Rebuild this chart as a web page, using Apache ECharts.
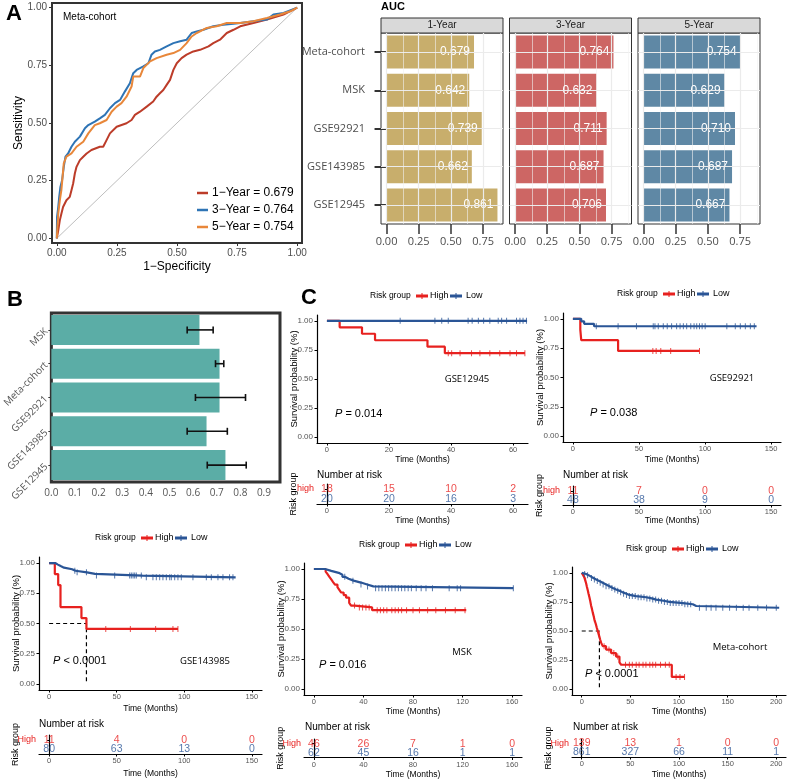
<!DOCTYPE html>
<html>
<head>
<meta charset="utf-8">
<script src="https://cdn.jsdelivr.net/npm/echarts@6/dist/echarts.min.js"></script>
<style>html,body{margin:0;padding:0;background:#fff}#chart{width:787px;height:780px}</style>
</head>
<body>
<div id="chart"></div>
<script>
// ---------- data ----------
// ROC curves of the meta-cohort, [1-specificity, sensitivity]
const roc1Year = [[0,0],[0.006,0.035],[0.0125,0.078],[0.019,0.107],[0.026,0.136],[0.04,0.165],[0.054,0.18],[0.061,0.209],[0.068,0.238],[0.075,0.281],[0.082,0.31],[0.096,0.339],[0.11,0.354],[0.124,0.368],[0.144,0.383],[0.179,0.397],[0.193,0.397],[0.207,0.426],[0.221,0.455],[0.249,0.484],[0.29,0.499],[0.311,0.513],[0.325,0.535],[0.346,0.549],[0.374,0.571],[0.401,0.593],[0.415,0.614],[0.429,0.629],[0.443,0.643],[0.457,0.665],[0.471,0.687],[0.485,0.73],[0.499,0.759],[0.519,0.781],[0.54,0.796],[0.568,0.81],[0.596,0.817],[0.631,0.832],[0.651,0.846],[0.679,0.861],[0.707,0.89],[0.735,0.904],[0.763,0.919],[0.818,0.933],[0.874,0.948],[0.943,0.97],[1,1]];
const roc3Year = [[0,0],[0.001,0.093],[0.006,0.136],[0.01,0.18],[0.015,0.223],[0.022,0.252],[0.029,0.31],[0.036,0.354],[0.047,0.368],[0.061,0.397],[0.075,0.419],[0.096,0.441],[0.117,0.477],[0.131,0.491],[0.158,0.506],[0.179,0.52],[0.2,0.535],[0.221,0.564],[0.242,0.586],[0.263,0.6],[0.283,0.636],[0.304,0.672],[0.318,0.716],[0.332,0.73],[0.36,0.745],[0.381,0.759],[0.394,0.796],[0.408,0.81],[0.429,0.817],[0.457,0.832],[0.485,0.846],[0.513,0.854],[0.54,0.861],[0.561,0.89],[0.582,0.897],[0.61,0.904],[0.651,0.919],[0.693,0.926],[0.735,0.93],[0.763,0.933],[0.818,0.941],[0.874,0.948],[0.901,0.97],[0.943,0.977],[1,1]];
const roc5Year = [[0,0],[0.006,0.107],[0.0125,0.165],[0.019,0.209],[0.029,0.325],[0.04,0.354],[0.061,0.368],[0.082,0.397],[0.11,0.419],[0.131,0.455],[0.158,0.491],[0.179,0.499],[0.207,0.513],[0.228,0.549],[0.249,0.571],[0.269,0.586],[0.29,0.614],[0.311,0.658],[0.318,0.701],[0.346,0.701],[0.36,0.738],[0.388,0.767],[0.415,0.781],[0.457,0.796],[0.485,0.803],[0.513,0.817],[0.54,0.846],[0.561,0.875],[0.582,0.89],[0.624,0.912],[0.665,0.919],[0.707,0.933],[0.763,0.933],[0.818,0.941],[0.874,0.955],[0.929,0.97],[0.971,0.984],[1,1]];
const rocDiagonal = [[0,0],[1,1]];
const rocLegend = ['1−Year = 0.679', '3−Year = 0.764', '5−Year = 0.754'];
const rocBreaks = [0, 0.25, 0.5, 0.75, 1];

// AUC facets
const aucCohorts = ['Meta-cohort', 'MSK', 'GSE92921', 'GSE143985', 'GSE12945'];
const aucFacets = ['1-Year', '3-Year', '5-Year'];
const auc1Year = [0.679, 0.642, 0.739, 0.662, 0.861];
const auc3Year = [0.764, 0.632, 0.711, 0.687, 0.706];
const auc5Year = [0.754, 0.629, 0.710, 0.687, 0.667];
const aucMajorBreaks = [0, 0.25, 0.5, 0.75];
const aucMinorBreaks = [0.125, 0.375, 0.625, 0.875];

// panel B
const cindexCohorts = ['MSK', 'Meta-cohort', 'GSE92921', 'GSE143985', 'GSE12945'];
const cindexValues = [0.627, 0.712, 0.712, 0.657, 0.737];
const cindexLower = [0.575, 0.695, 0.61, 0.575, 0.66];
const cindexUpper = [0.685, 0.73, 0.822, 0.745, 0.825];
const cindexBreaks = [0, 0.1, 0.2, 0.3, 0.4, 0.5, 0.6, 0.7, 0.8, 0.9];

// Kaplan-Meier curves: [time, survival] steps, censor times, risk tables
const kmSurvBreaks = [0, 0.25, 0.5, 0.75, 1];

const gse12945HighSteps = [[0,1],[4.1,0.944],[11.3,0.889],[15.5,0.833],[32.4,0.778],[38,0.722],[63.8,0.722]];
const gse12945HighCensor = [39.1,40.2,42.9,46.6,49.3,52.5,55.7,59.0,61.1,63.8];
const gse12945LowSteps = [[0,1],[64.5,1]];
const gse12945LowCensor = [23.6,34.8,37,39.1,45.5,46.8,48.8,50.5,52.5,55.2,56.3,57.9,61.1,62.2,63.2,64.3];
const gse12945RiskTimes = [0, 20, 40, 60];
const gse12945RiskHigh = [18, 15, 10, 2];
const gse12945RiskLow = [20, 20, 16, 3];

const gse92921HighSteps = [[0,1],[5.6,0.909],[6.3,0.818],[34.2,0.727],[95.8,0.727]];
const gse92921HighCensor = [60.5,63,66.5,74,95.8];
const gse92921LowSteps = [[0,1],[6.3,0.979],[8.5,0.958],[16,0.937],[139,0.937]];
const gse92921LowCensor = [17.7,34.2,48.1,60.8,62.1,64.6,68.4,71.4,74.7,78.5,81.1,83.6,86.1,89.2,91.7,93.7,95.8,97.8,100.1,116.5,122.9,126.7,130.5,134.3,137.3];
const gse92921RiskTimes = [0, 50, 100, 150];
const gse92921RiskHigh = [11, 7, 0, 0];
const gse92921RiskLow = [48, 38, 9, 0];

const gse143985HighSteps = [[0,1],[4.2,0.909],[6.7,0.818],[8.4,0.636],[23.9,0.545],[27.6,0.455],[95.3,0.455]];
const gse143985HighCensor = [41.9,60.1,78.8,91.6,95.3];
const gse143985LowSteps = [[0,1],[4.5,0.987],[6.5,0.975],[8.5,0.962],[11,0.949],[17,0.936],[19.5,0.923],[28,0.91],[34,0.896],[69,0.882],[138,0.882]];
const gse143985LowCensor = [19,20.7,27.6,35,48.5,59.6,60.8,62.1,63.3,64.5,68.2,71.9,76.8,79.3,81.8,84.2,86.7,89.2,90.4,92.9,95.3,97.8,106.4,116.3,120,124.9,128.6,133.5,136];
const gse143985Median = 27.6;
const gse143985RiskTimes = [0, 50, 100, 150];
const gse143985RiskHigh = [11, 4, 0, 0];
const gse143985RiskLow = [80, 63, 13, 0];

const mskHighSteps = [[0,1],[9.5,0.978],[11,0.957],[12.5,0.935],[14,0.913],[15.5,0.891],[17,0.87],[19,0.848],[20.5,0.826],[22,0.804],[24,0.783],[26,0.761],[28.5,0.717],[30,0.695],[33,0.68],[47,0.657],[123,0.657]];
const mskHighCensor = [32.8,36.7,39.3,42,44.6,51.1,53.7,56.3,58.9,62.9,65.6,68.2,70.8,74.8,80,85.2,91.8,98.4,106.2,114.1,122];
const mskLowSteps = [[0,1],[9,0.984],[14,0.968],[20,0.952],[23,0.935],[25,0.919],[28,0.903],[32,0.887],[38,0.871],[43,0.855],[48,0.84],[161,0.84]];
const mskLowCensor = [24.9,31.5,38,43.3,49.8,52.4,55,57.7,60.3,62.9,65.6,68.2,70.8,73.4,76.1,78.7,82.6,86.6,90.5,95.7,109.2,115.7,118.4,161];
const mskRiskTimes = [0, 40, 80, 120, 160];
const mskRiskHigh = [46, 26, 7, 1, 0];
const mskRiskLow = [62, 45, 16, 1, 1];

const metaHighSteps = [[0,1],[1.5,0.98],[2.7,0.96],[3.6,0.935],[4.5,0.91],[5.3,0.88],[6.2,0.85],[7,0.82],[7.9,0.79],[8.8,0.755],[9.6,0.72],[10.5,0.69],[11.3,0.66],[12.2,0.63],[13,0.6],[13.9,0.575],[14.8,0.55],[15.6,0.525],[16.5,0.5],[17.3,0.475],[18.2,0.45],[19,0.425],[19.9,0.4],[21.6,0.37],[25,0.34],[30.2,0.31],[35.3,0.28],[38.8,0.23],[40.5,0.21],[92.6,0.105],[105.7,0.105]];
const metaHighCensor = [4,8,13,18,23,28,33,37,45,49,52,56,59,63,66,70,73,76,81,86,90,97,101,105.7];
const metaLowSteps = [[0,1],[2,0.99],[4.5,0.98],[7,0.967],[9.6,0.955],[12,0.943],[14.8,0.93],[18,0.915],[21.6,0.9],[25,0.885],[28.5,0.87],[32,0.857],[35.3,0.845],[39,0.832],[42.2,0.82],[46,0.81],[49,0.8],[55.9,0.79],[66.2,0.78],[72,0.77],[76.5,0.76],[84,0.75],[90.2,0.74],[104,0.73],[114.2,0.715],[117.7,0.7],[203,0.7]];
const metaLowCensor = [3,6,10,13,16,19,22,25,28,31,34,37,40,43,46,49,52,55,58,61,64,67,70,73,76,79,82,85,88,91,94,97,100,103,106,109,112,121,128,133,138,145,152,159,166,172,181,190,200];
const metaMedian = 18.2;
const metaRiskTimes = [0, 50, 100, 150, 200];
const metaRiskHigh = [139, 13, 1, 0, 0];
const metaRiskLow = [861, 327, 66, 11, 1];

// ---------- drawing ----------
const FONT = 'Liberation Sans, Arial, sans-serif';
const FONT2 = 'Open Sans, Liberation Sans, sans-serif';
const RED = '#E7211F';
const BLUE = '#2A5596';
const ROC_COLORS = ['#BC3C29', '#2E74B5', '#E8873A'];
const AUC_COLORS = ['#C8AE6C', '#CD6664', '#5F88A5'];

const grid = [], xAxis = [], yAxis = [], series = [], graphic = [];

function addGrid(g, xa, ya) {
  grid.push(g);
  xa.gridIndex = grid.length - 1;
  ya.gridIndex = grid.length - 1;
  xa.nameMoveOverlap = false;
  ya.nameMoveOverlap = false;
  xAxis.push(xa);
  yAxis.push(ya);
  return { xAxisIndex: xAxis.length - 1, yAxisIndex: yAxis.length - 1 };
}

function txt(text, x, y, o = {}) {
  graphic.push({
    type: 'text', x, y, rotation: o.rotation || 0, silent: true, z: 10,
    style: {
      text, fontSize: o.size || 10, fontFamily: o.family || FONT,
      fontWeight: o.weight || 'normal', fill: o.color || '#000',
      align: o.align || 'left', textAlign: o.align || 'left',
      verticalAlign: 'middle', textVerticalAlign: 'middle', rich: o.rich
    }
  });
}

function seg(x1, y1, x2, y2, color, w) {
  graphic.push({ type: 'line', silent: true, z: 10, shape: { x1, y1, x2, y2 }, style: { stroke: color, lineWidth: w } });
}

// survival value of a step curve at time t
function survAt(steps, t) {
  let s = steps[0][1];
  for (const p of steps) if (p[0] <= t) s = p[1];
  return s;
}

// ----- panel A: ROC -----
txt('A', 6, 14, { size: 22, weight: 'bold' });
const roc = addGrid(
  { left: 52, top: 3, width: 250, height: 240, show: true, borderColor: '#333', borderWidth: 2, backgroundColor: '#fff' },
  { type: 'value', min: -0.02, max: 1.02, axisLine: { show: false, onZero: false },
    axisTick: { show: true, customValues: rocBreaks, length: 3, lineStyle: { color: '#333' } },
    axisLabel: { customValues: rocBreaks, formatter: v => v.toFixed(2), fontSize: 10, color: '#4D4D4D', margin: 5 },
    splitLine: { show: false }, name: '1−Specificity', nameLocation: 'middle', nameGap: 18,
    nameTextStyle: { fontSize: 12, color: '#000' } },
  { type: 'value', min: -0.02, max: 1.02, axisLine: { show: false, onZero: false },
    axisTick: { show: true, customValues: rocBreaks, length: 3, lineStyle: { color: '#333' } },
    axisLabel: { customValues: rocBreaks, formatter: v => v.toFixed(2), fontSize: 10, color: '#4D4D4D', margin: 5 },
    splitLine: { show: false }, name: 'Sensitivity', nameLocation: 'middle', nameGap: 27, nameRotate: 90,
    nameTextStyle: { fontSize: 12, color: '#000' } }
);
series.push({ type: 'line', ...roc, data: rocDiagonal, showSymbol: false, silent: true, lineStyle: { color: '#BEBEBE', width: 1 }, z: 2 });
[roc1Year, roc3Year, roc5Year].forEach((d, i) => {
  series.push({ type: 'line', ...roc, data: d, showSymbol: false, silent: true, lineStyle: { color: ROC_COLORS[i], width: 2 }, z: 3 + i });
});
txt('Meta-cohort', 63, 17, { size: 10 });
rocLegend.forEach((t, i) => {
  const y = 193 + i * 17;
  seg(197, y, 208, y, ROC_COLORS[i], 2.5);
  txt(t, 212, y, { size: 12 });
});

// ----- panel A: AUC facets -----
txt('AUC', 381, 7, { size: 11, weight: 'bold' });
const facetLefts = [381, 509.5, 638];
[auc1Year, auc3Year, auc5Year].forEach((vals, i) => {
  const left = facetLefts[i];
  const g = addGrid(
    { left, top: 33, width: 122, height: 191, show: true, borderColor: '#333', borderWidth: 1, backgroundColor: '#fff' },
    { type: 'value', min: -0.043, max: 0.904, axisLine: { show: false, onZero: false },
      axisTick: { show: true, customValues: aucMajorBreaks, length: 10, lineStyle: { color: '#333', width: 1.5 } },
      axisLabel: { customValues: aucMajorBreaks, formatter: v => v.toFixed(2), fontSize: 11, color: '#4D4D4D', margin: 12, fontFamily: FONT2 },
      splitLine: { show: false } },
    { type: 'category', inverse: true, data: aucCohorts, axisLine: { show: false },
      axisTick: { show: i === 0, alignWithLabel: true, length: 12, lineStyle: { color: '#333', width: 2 } },
      axisLabel: { show: i === 0, fontSize: 11, color: '#4D4D4D', margin: 16, fontFamily: FONT2 },
      splitLine: { show: false } }
  );
  series.push({ type: 'line', ...g, data: [], silent: true, z: 1,
    markLine: { silent: true, symbol: ['none', 'none'], label: { show: false }, animation: false,
      lineStyle: { color: '#EBEBEB', width: 1.2, type: 'solid' },
      data: [...aucMajorBreaks.map(v => ({ xAxis: v })), ...aucCohorts.map(c => ({ yAxis: c }))] } });
  series.push({ type: 'line', ...g, data: [], silent: true, z: 1,
    markLine: { silent: true, symbol: ['none', 'none'], label: { show: false }, animation: false,
      lineStyle: { color: '#F2F2F2', width: 0.6, type: 'solid' },
      data: aucMinorBreaks.map(v => ({ xAxis: v })) } });
  series.push({ type: 'bar', ...g, data: vals, barWidth: 33, silent: true, z: 3,
    itemStyle: { color: AUC_COLORS[i] },
    label: { show: true, position: 'insideRight', distance: 4, color: '#fff', fontSize: 12, fontFamily: FONT,
      formatter: p => p.value.toFixed(3) } });
  graphic.push({ type: 'rect', silent: true, z: 5, shape: { x: left, y: 18, width: 122, height: 15 },
    style: { fill: '#D9D9D9', stroke: '#333', lineWidth: 1 } });
  txt(aucFacets[i], left + 61, 25.5, { size: 10, align: 'center', color: '#1A1A1A' });
});

// ----- panel B -----
txt('B', 7, 300, { size: 22, weight: 'bold' });
const pb = addGrid(
  { left: 47, top: 313, width: 233, height: 169, show: true, borderColor: '#333', borderWidth: 3, backgroundColor: '#fff' },
  { type: 'value', min: 0, max: 0.968, axisLine: { show: false, onZero: false }, axisTick: { show: false },
    axisLabel: { customValues: cindexBreaks, formatter: v => v.toFixed(1), fontSize: 10, color: '#555', margin: 6, fontFamily: FONT2 },
    splitLine: { show: false } },
  { type: 'category', inverse: true, data: cindexCohorts, axisLine: { show: false },
    axisTick: { show: true, alignWithLabel: true, length: 3, lineStyle: { color: '#333' } },
    axisLabel: { rotate: 45, fontSize: 10, color: '#555', margin: 5, fontFamily: FONT2 } }
);
series.push({ type: 'bar', ...pb, data: cindexValues, barWidth: 30, silent: true, itemStyle: { color: '#5BADA6' }, z: 2 });
series.push({ type: 'custom', ...pb, silent: true, z: 4,
  data: cindexCohorts.map((c, i) => [cindexLower[i], cindexUpper[i], i]),
  encode: { x: [0, 1], y: 2 },
  renderItem: (params, api) => {
    const a = api.coord([api.value(0), api.value(2)]);
    const b = api.coord([api.value(1), api.value(2)]);
    const st = { stroke: '#111', lineWidth: 1.6 };
    return { type: 'group', children: [
      { type: 'line', shape: { x1: a[0], y1: a[1], x2: b[0], y2: b[1] }, style: st },
      { type: 'line', shape: { x1: a[0], y1: a[1] - 3.5, x2: a[0], y2: a[1] + 3.5 }, style: st },
      { type: 'line', shape: { x1: b[0], y1: b[1] - 3.5, x2: b[0], y2: b[1] + 3.5 }, style: st }
    ] };
  } });

// ----- panel C: Kaplan-Meier plots -----
txt('C', 301, 298, { size: 22, weight: 'bold' });

const kmPanels = [
  { label: 'GSE12945', p: '= 0.014', high: gse12945HighSteps, highC: gse12945HighCensor, low: gse12945LowSteps, lowC: gse12945LowCensor,
    times: gse12945RiskTimes, rHigh: gse12945RiskHigh, rLow: gse12945RiskLow, groups: ['high', 'low'],
    L: { left: 317, top: 315, width: 211, height: 128, xMin: -3.2, xMax: 64.8, xTitleY: 459.5,
      tTop: 484, tHeight: 20, tTitleY: 521, legend: [370, 296], pPos: [335, 414], labelPos: [467, 379], nar: [317, 475] } },
  { label: 'GSE92921', p: '= 0.038', high: gse92921HighSteps, highC: gse92921HighCensor, low: gse92921LowSteps, lowC: gse92921LowCensor,
    times: gse92921RiskTimes, rHigh: gse92921RiskHigh, rLow: gse92921RiskLow, groups: ['high', 'low'],
    L: { left: 563, top: 313, width: 218, height: 129, xMin: -7.5, xMax: 157.5, xTitleY: 459.5,
      tTop: 486, tHeight: 19, tTitleY: 521, legend: [617, 294], pPos: [590, 413], labelPos: [732, 378], nar: [563, 475] } },
  { label: 'GSE143985', p: '< 0.0001', high: gse143985HighSteps, highC: gse143985HighCensor, low: gse143985LowSteps, lowC: gse143985LowCensor,
    times: gse143985RiskTimes, rHigh: gse143985RiskHigh, rLow: gse143985RiskLow, groups: ['High', 'Low'], median: gse143985Median,
    L: { left: 39, top: 557, width: 223, height: 133, xMin: -7.5, xMax: 157.5, xTitleY: 708.5,
      tTop: 735, tHeight: 19, tTitleY: 773.5, legend: [95, 538], pPos: [53, 661], labelPos: [205, 661], nar: [39, 724] } },
  { label: 'MSK', p: '= 0.016', high: mskHighSteps, highC: mskHighCensor, low: mskLowSteps, lowC: mskLowCensor,
    times: mskRiskTimes, rHigh: mskRiskHigh, rLow: mskRiskLow, groups: ['High', 'Low'],
    L: { left: 304, top: 563, width: 218, height: 132, xMin: -8, xMax: 168, xTitleY: 711.5,
      tTop: 739, tHeight: 19, tTitleY: 775, legend: [359, 545], pPos: [319, 665], labelPos: [462, 652], nar: [305, 727] } },
  { label: 'Meta-cohort', p: '< 0.0001', high: metaHighSteps, highC: metaHighCensor, low: metaLowSteps, lowC: metaLowCensor,
    times: metaRiskTimes, rHigh: metaRiskHigh, rLow: metaRiskLow, groups: ['High', 'Low'], median: metaMedian,
    L: { left: 572, top: 567, width: 214, height: 128, xMin: -10, xMax: 210, xTitleY: 711.5,
      tTop: 739, tHeight: 18, tTitleY: 774.5, legend: [626, 549], pPos: [585, 674], labelPos: [740, 647], nar: [573, 727] } }
];

function kmLegend(x, y) {
  txt('Risk group', x, y, { size: 8.5 });
  seg(x + 46, y, x + 58, y, RED, 3);
  seg(x + 52, y - 3, x + 52, y + 3, RED, 1);
  txt('High', x + 60, y, { size: 9 });
  seg(x + 80, y, x + 92, y, BLUE, 3);
  seg(x + 86, y - 3, x + 86, y + 3, BLUE, 1);
  txt('Low', x + 96, y, { size: 9 });
}

kmPanels.forEach(d => {
  const L = d.L;
  const axisStyle = { show: true, onZero: false, lineStyle: { color: '#000', width: 1.2 } };
  const km = addGrid(
    { left: L.left, top: L.top, width: L.width, height: L.height },
    { type: 'value', min: L.xMin, max: L.xMax, axisLine: axisStyle,
      axisTick: { show: true, customValues: d.times, length: 2.5, lineStyle: { color: '#000' } },
      axisLabel: { customValues: d.times, fontSize: 7.5, color: '#555', margin: 3 },
      splitLine: { show: false }, name: 'Time (Months)', nameLocation: 'middle',
      nameGap: L.xTitleY - (L.top + L.height) - 4.5, nameTextStyle: { fontSize: 8.5, color: '#000' } },
    { type: 'value', min: -0.05, max: 1.05, axisLine: axisStyle,
      axisTick: { show: true, customValues: kmSurvBreaks, length: 2.5, lineStyle: { color: '#000' } },
      axisLabel: { customValues: kmSurvBreaks, formatter: v => v.toFixed(2), fontSize: 8, color: '#555', margin: 4 },
      splitLine: { show: false }, name: 'Survival probability (%)', nameLocation: 'middle', nameGap: 18, nameRotate: 90,
      nameTextStyle: { fontSize: 9.5, color: '#000' } }
  );
  if (d.median !== undefined) {
    series.push({ type: 'line', ...km, data: [[0, 0.5], [d.median, 0.5], [d.median, 0]], showSymbol: false, silent: true,
      lineStyle: { color: '#000', width: 1.2, type: [4, 3] }, z: 2 });
  }
  [[d.high, d.highC, RED], [d.low, d.lowC, BLUE]].forEach(([steps, cens, col]) => {
    series.push({ type: 'line', ...km, data: steps, step: 'end', showSymbol: false, silent: true,
      lineStyle: { color: col, width: 2.2 }, z: 3 });
    series.push({ type: 'scatter', ...km, data: cens.map(t => [t, survAt(steps, t)]), symbol: 'rect', symbolSize: [1, 6],
      silent: true, itemStyle: { color: col }, z: 4 });
  });
  kmLegend(L.legend[0], L.legend[1]);
  txt('{i|P} ' + d.p, L.pPos[0], L.pPos[1], { size: 11, rich: { i: { fontStyle: 'italic', fontSize: 11, fontFamily: FONT } } });
  txt(d.label, L.labelPos[0], L.labelPos[1], { size: 9.5, align: 'center', family: FONT2 });

  // risk table
  txt('Number at risk', L.nar[0], L.nar[1], { size: 10 });
  const tb = addGrid(
    { left: L.left, top: L.tTop, width: L.width, height: L.tHeight },
    { type: 'value', min: L.xMin, max: L.xMax, axisLine: axisStyle,
      axisTick: { show: true, customValues: d.times, length: 2.5, lineStyle: { color: '#000' } },
      axisLabel: { customValues: d.times, fontSize: 7.5, color: '#555', margin: 3 },
      splitLine: { show: false }, name: 'Time (Months)', nameLocation: 'middle',
      nameGap: L.tTitleY - (L.tTop + L.tHeight) - 4.5, nameTextStyle: { fontSize: 8.5, color: '#000' } },
    { type: 'category', inverse: true, data: d.groups, axisLine: { show: true, lineStyle: { color: '#000', width: 1.2 } },
      axisTick: { show: true, alignWithLabel: true, length: 2, lineStyle: { color: '#000' } },
      axisLabel: { fontSize: 9, margin: 3, color: v => (v.toLowerCase() === 'high' ? RED : BLUE) },
      name: 'Risk group', nameLocation: 'middle', nameGap: 19, nameRotate: 90, nameTextStyle: { fontSize: 9, color: '#000' } }
  );
  [[d.rHigh, 0, RED], [d.rLow, 1, BLUE]].forEach(([counts, row, col]) => {
    series.push({ type: 'scatter', ...tb, symbolSize: 0, silent: true,
      data: d.times.map((t, i) => [t, row, counts[i]]),
      label: { show: true, position: 'inside', formatter: p => String(p.value[2]), fontSize: 10.5, color: col, fontFamily: FONT } });
  });
});

const chart = echarts.init(document.getElementById('chart'));
chart.setOption({
  animation: false,
  backgroundColor: '#fff',
  textStyle: { fontFamily: FONT },
  grid, xAxis, yAxis, series, graphic
});
</script>
</body>
</html>
